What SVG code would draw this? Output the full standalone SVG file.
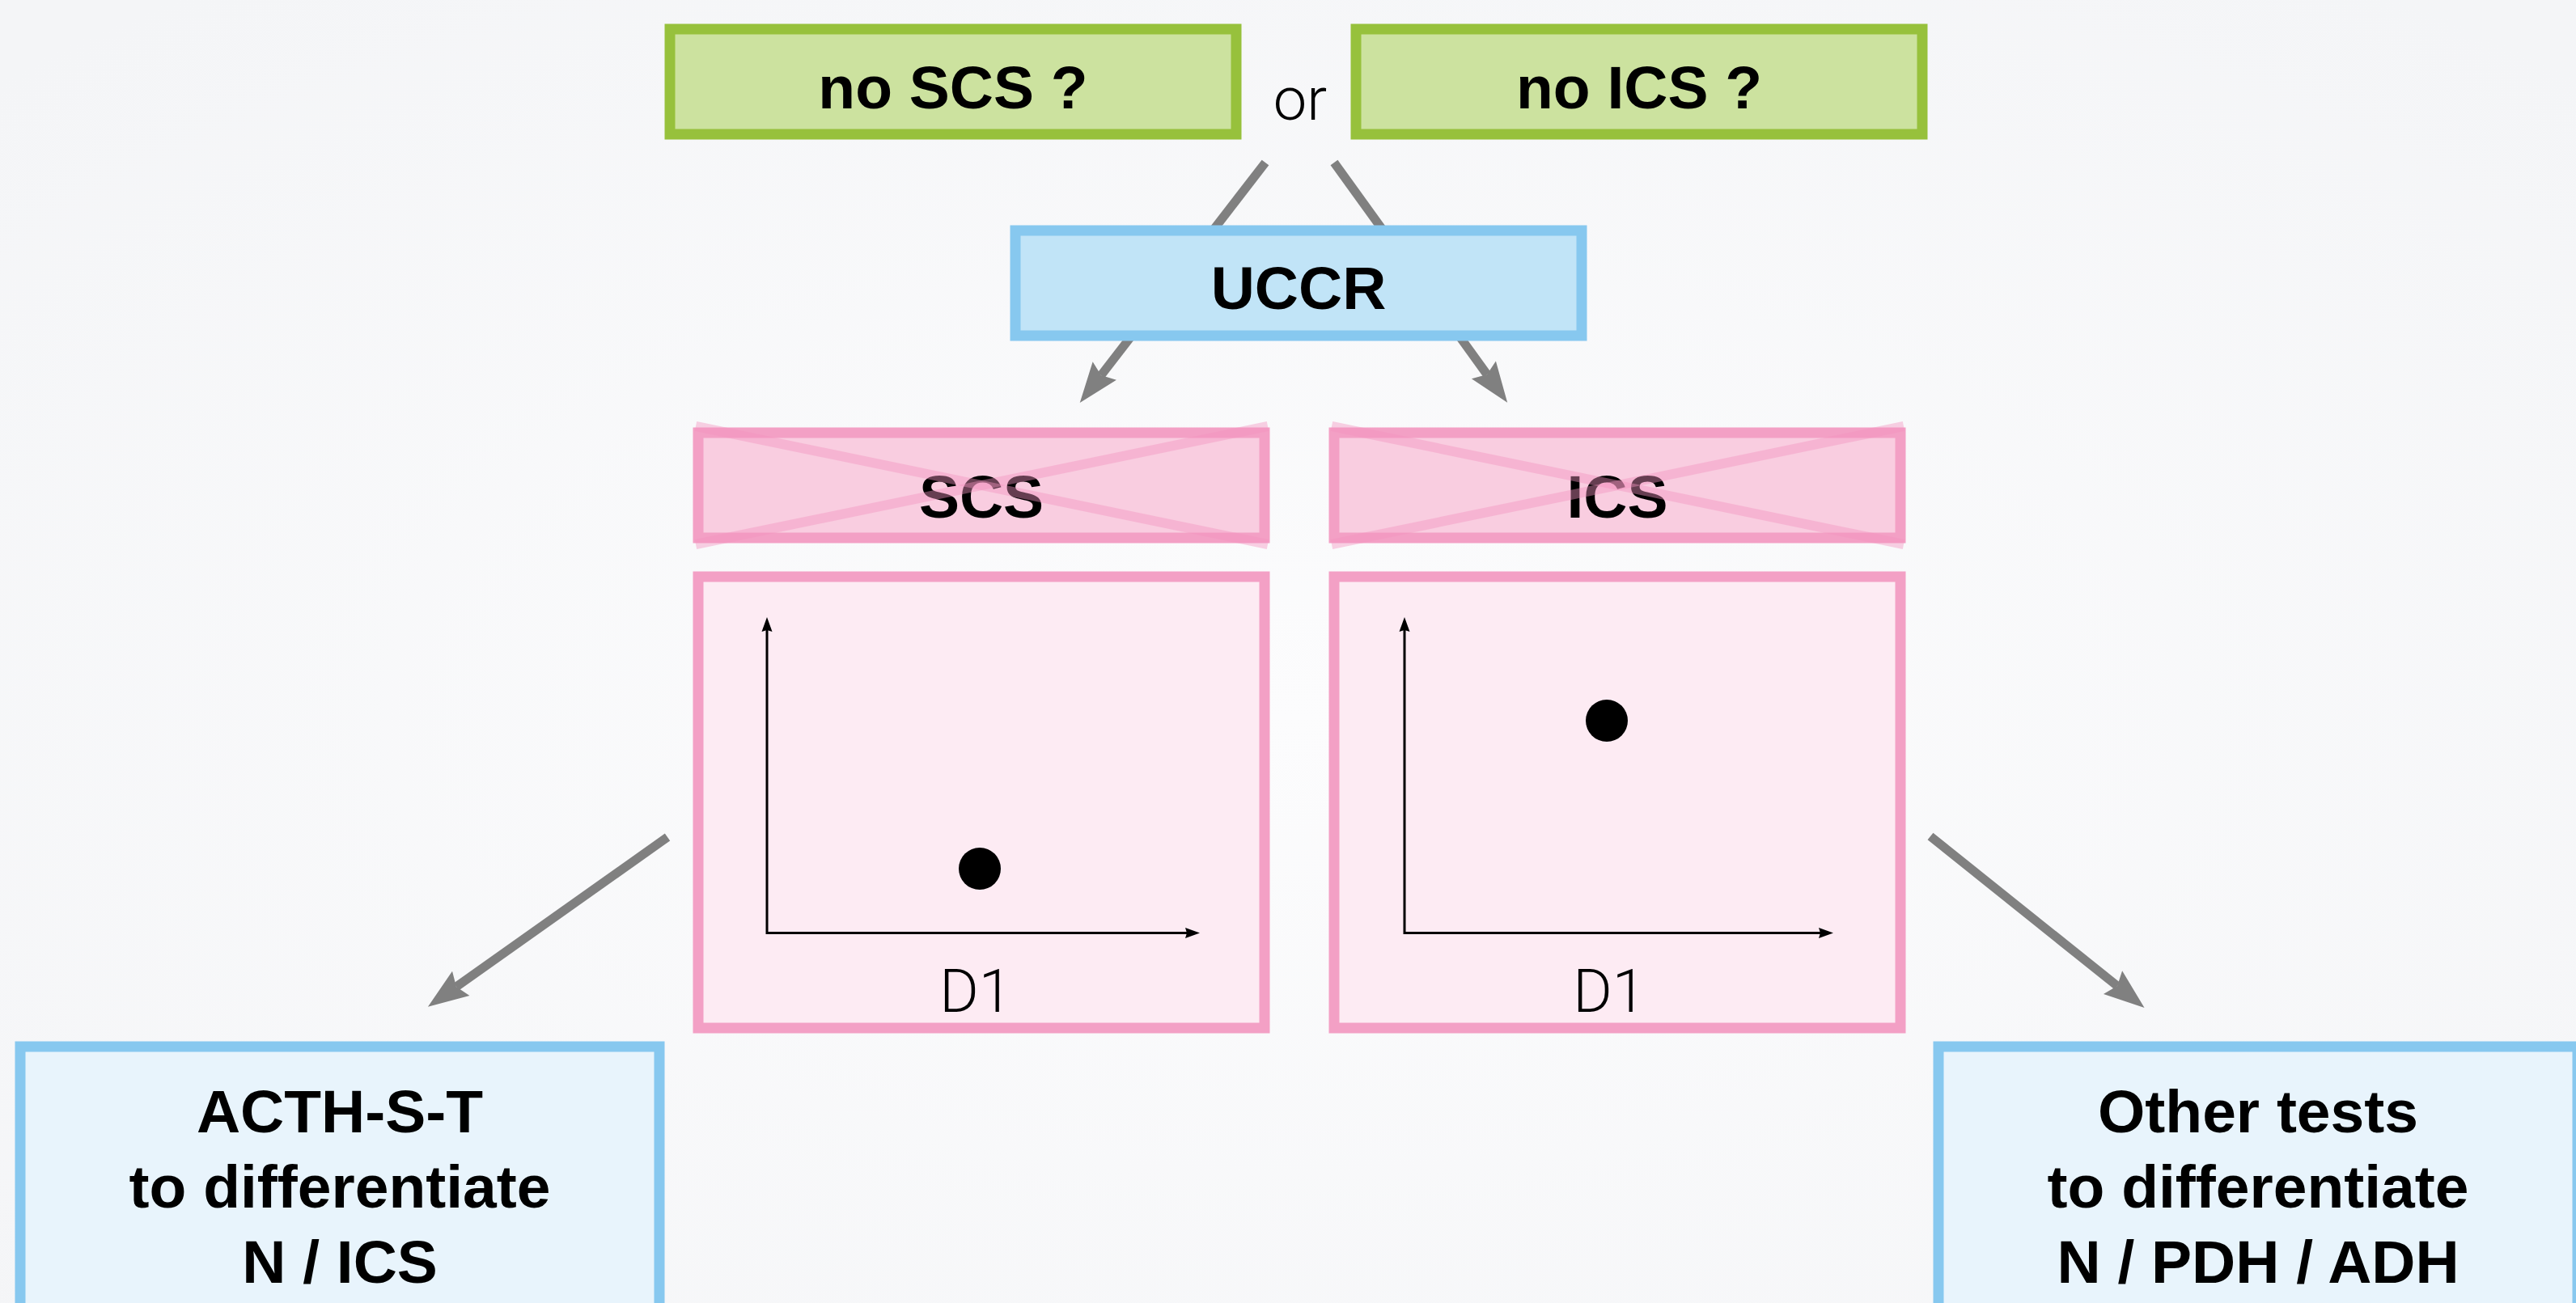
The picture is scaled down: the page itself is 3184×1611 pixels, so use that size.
<svg xmlns="http://www.w3.org/2000/svg" width="3184" height="1611" viewBox="0 0 3184 1611">
<defs>
<radialGradient id="bg" cx="50%" cy="55%" r="70%">
<stop offset="0" stop-color="#fcfcfd"/>
<stop offset="1" stop-color="#f4f5f7"/>
</radialGradient>
<marker id="ah" markerUnits="userSpaceOnUse" viewBox="0 -18.5 50 37" markerWidth="50" markerHeight="37" refX="7" refY="0" orient="auto" overflow="visible">
<path d="M0,-18.5 L50,0 L0,18.5 L7,0 Z" fill="#808080"/>
</marker>
<marker id="ax" markerUnits="userSpaceOnUse" viewBox="0 -6.5 18 13" markerWidth="18" markerHeight="13" refX="2" refY="0" orient="auto" overflow="visible">
<path d="M0,-6.5 L18,0 L0,6.5 L2,0 Z" fill="#000"/>
</marker>
</defs>
<style>
.green{fill:#cce29f;stroke:#97c13c;stroke-width:13}
.blue{fill:#c1e4f7;stroke:#87c8ef;stroke-width:13}
.lblue{fill:#e8f4fc;stroke:#87c8ef;stroke-width:13}
.phead{fill:#f9cde0;stroke:#f3a0c5;stroke-width:13}
.pbox{fill:#fdebf3;stroke:#f3a0c5;stroke-width:13}
.cross{stroke:#f494c0;stroke-width:12;opacity:0.42}
.b{font-family:"Liberation Sans",Arial,sans-serif;font-weight:bold;font-size:75px;fill:#000;text-anchor:middle}
.l{font-family:Roboto,"Open Sans",sans-serif;font-weight:300;font-size:74px;fill:#000;text-anchor:middle}
.conn{stroke:#808080;stroke-width:11;fill:none;marker-end:url(#ah)}
.axis{stroke:#000;stroke-width:3;fill:none;marker-end:url(#ax)}
</style>
<rect width="3184" height="1611" fill="url(#bg)"/>
<g id="connectors">
<line class="conn" x1="1564" y1="201" x2="1361" y2="464"/>
<line class="conn" x1="1649" y1="201" x2="1838" y2="463"/>
<line class="conn" x1="825" y1="1035" x2="564" y2="1220"/>
<line class="conn" x1="2386" y1="1034" x2="2617" y2="1219"/>
</g>
<g id="no-scs">
<rect class="green" x="828" y="36" width="700" height="130"/>
<text class="b" x="1178" y="134">no SCS ?</text>
</g>
<text id="or" class="l" x="1607" y="148">or</text>
<g id="no-ics">
<rect class="green" x="1676" y="36" width="700" height="130"/>
<text class="b" x="2026" y="134">no ICS ?</text>
</g>
<g id="uccr">
<rect class="blue" x="1255" y="285" width="700" height="130"/>
<text class="b" x="1605" y="382">UCCR</text>
</g>
<g id="scs-header">
<rect class="phead" x="863" y="535" width="700" height="130"/>
<text class="b" x="1213" y="640">SCS</text>
<line class="cross" x1="860" y1="527" x2="1567" y2="673"/>
<line class="cross" x1="860" y1="673" x2="1567" y2="527"/>
</g>
<g id="ics-header">
<rect class="phead" x="1649" y="535" width="700" height="130"/>
<text class="b" x="1999" y="640">ICS</text>
<line class="cross" x1="1646" y1="527" x2="2353" y2="673"/>
<line class="cross" x1="1646" y1="673" x2="2353" y2="527"/>
</g>
<g id="scs-chart">
<rect class="pbox" x="863" y="713" width="700" height="558"/>
<line class="axis" x1="948" y1="1152" x2="948" y2="779"/>
<line class="axis" x1="946.5" y1="1153.5" x2="1467" y2="1153.5"/>
<circle cx="1211" cy="1074" r="26" fill="#000"/>
<text class="l" x="1206" y="1251">D1</text>
</g>
<g id="ics-chart">
<rect class="pbox" x="1649" y="713" width="700" height="558"/>
<line class="axis" x1="1736" y1="1152" x2="1736" y2="779"/>
<line class="axis" x1="1734.5" y1="1153.5" x2="2250" y2="1153.5"/>
<circle cx="1986" cy="891" r="26" fill="#000"/>
<text class="l" x="1989" y="1251">D1</text>
</g>
<g id="acth">
<rect class="lblue" x="25" y="1294" width="790" height="400"/>
<text class="b" x="420" y="1400">ACTH-S-T</text>
<text class="b" x="420" y="1493">to differentiate</text>
<text class="b" x="420" y="1586">N / ICS</text>
</g>
<g id="other">
<rect class="lblue" x="2396" y="1294" width="790" height="400"/>
<text class="b" x="2791" y="1400">Other tests</text>
<text class="b" x="2791" y="1493">to differentiate</text>
<text class="b" x="2791" y="1586">N / PDH / ADH</text>
</g>
</svg>
